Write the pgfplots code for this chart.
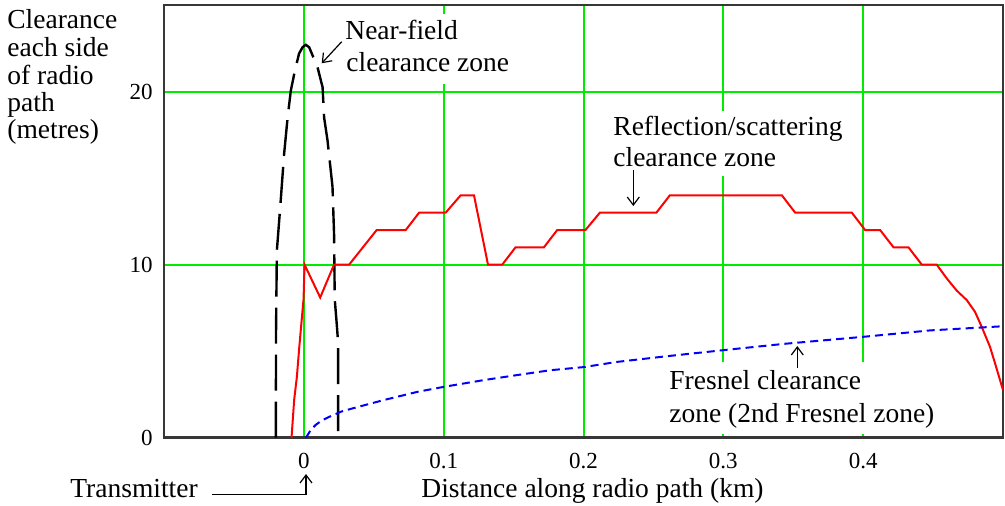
\documentclass[border=0pt]{standalone}
\usepackage{fontspec}
\setmainfont{Liberation Serif}
\usepackage{pgfplots}
\pgfplotsset{compat=1.18}
\usetikzlibrary{arrows.meta}
\definecolor{gridgreen}{RGB}{0,235,0}
\definecolor{frame}{RGB}{55,55,55}
\begin{document}
\begin{tikzpicture}
\useasboundingbox (0,0) rectangle (502.5pt,252.5pt);
\begin{axis}[
  at={(82pt,33.65pt)}, anchor=south west,
  scale only axis, width=419.5pt, height=216.35pt,
  xmin=-0.1, xmax=0.5, ymin=0, ymax=25,
  xtick={0,0.1,0.2,0.3,0.4}, xticklabels={0,0.1,0.2,0.3,0.4},
  ytick={0,10,20}, yticklabels={0,10,20},
  grid=major,
  major grid style={gridgreen, line width=1pt},
  tick style={gridgreen, line width=1pt},
  major tick length=4pt, tick align=inside,
  axis line style={frame, line width=1.3pt},
  xticklabel style={font=\fontsize{11.5}{12}\selectfont, inner sep=0pt, anchor=north, yshift=-7.6pt},
  yticklabel style={font=\fontsize{11.5}{12}\selectfont, inner sep=0pt, anchor=east, xshift=-5.5pt},
  clip=true,
]
% near-field clearance zone
\addplot[black, line width=1.2pt, dash pattern=on 18pt off 5.5pt] coordinates {
(-0.0200,0) (-0.0199,6) (-0.0193,10.8) (-0.0169,13.3) (-0.0141,16.4) (-0.0116,18.5)
(-0.0093,20.06) (-0.0064,21.2) (-0.0034,22.2) (-0.0009,22.56) (0.0014,22.7)
(0.0038,22.56) (0.0098,21.4) (0.0134,20.25) (0.0145,18.5) (0.0169,17.2) (0.0205,14.5)
(0.0216,11.8) (0.0221,8) (0.0236,6.5) (0.0245,5.5) (0.0245,0)
};
% reflection / scattering clearance zone
\addplot[red, line width=1pt] coordinates {
(-0.0088,0) (-0.0069,2.2) (-0.0050,3.5) (-0.0034,5.1) (-0.0021,6.3) (-0.0002,8.0)
(0.0005,10) (0.0117,8.1) (0.0216,10) (0.0324,10) (0.0521,12) (0.0729,12) (0.0824,13)
(0.1014,13) (0.1121,14) (0.1217,14) (0.1317,10) (0.1419,10) (0.1514,11) (0.1717,11)
(0.1812,12) (0.2014,12) (0.2117,13) (0.2521,13) (0.2617,14) (0.3419,14) (0.3514,13)
(0.3919,13) (0.4014,12) (0.4121,12) (0.4217,11) (0.4324,11) (0.4419,10) (0.4526,10)
(0.4598,9.2) (0.4669,8.5) (0.4741,7.95) (0.4800,7.27) (0.4848,6.4) (0.4907,5.25)
(0.4943,4.3) (0.5,2.75)
};
% Fresnel clearance zone
\addplot[blue, line width=1pt, dash pattern=on 4pt off 2.5pt] coordinates {
(0.0015,0) (0.005,0.45) (0.0086,0.75) (0.013,1.0) (0.018,1.2) (0.0264,1.5) (0.036,1.72)
(0.0574,2.18) (0.0812,2.65) (0.1002,2.94) (0.1288,3.33) (0.1526,3.62) (0.1764,3.9)
(0.2002,4.08) (0.224,4.38) (0.2598,4.71) (0.3002,5.06) (0.3431,5.42) (0.4002,5.83)
(0.4479,6.2) (0.5,6.44)
};
\end{axis}
\begin{scope}[x=0.5pt,y=-0.5pt,shift={(0pt,252.5pt)},
  every node/.style={inner sep=0pt, anchor=base west},
  ann/.style={font=\fontsize{13.75}{16}\selectfont},
  arr/.style={black, line width=0.6pt, -{Straight Barb[length=4pt,width=6pt]}}]
% white label backgrounds
\fill[white] (339,14) rectangle (514,84);
\fill[white] (607,111) rectangle (850,176);
\fill[white] (664,362) rectangle (945,434);
% y label
\node[ann] at (7,28) {Clearance};
\node[ann] at (7,56) {each side};
\node[ann] at (7,84) {of radio};
\node[ann] at (7,111) {path};
\node[ann] at (7,138) {(metres)};
% x label
\node[ann] at (421,497) {Distance along radio path (km)};
\node[ann] at (70,497) {Transmitter};
\draw[arr] (212,494.3) -- (306,494.3) -- (306,474);
% annotations
\node[ann] at (345,39) {Near-field};
\node[ann] at (346,71) {clearance zone};
\draw[arr] (341.7,41.7) -- (321.7,63.3);
\node[ann] at (613,135) {Reflection/scattering};
\node[ann] at (613,166) {clearance zone};
\draw[arr] (633.3,170) -- (633.3,206);
\node[ann] at (669,389) {Fresnel clearance};
\node[ann] at (669,422) {zone (2nd Fresnel zone)};
\draw[arr] (797.3,368) -- (797.3,346);
\end{scope}
\end{tikzpicture}
\end{document}
